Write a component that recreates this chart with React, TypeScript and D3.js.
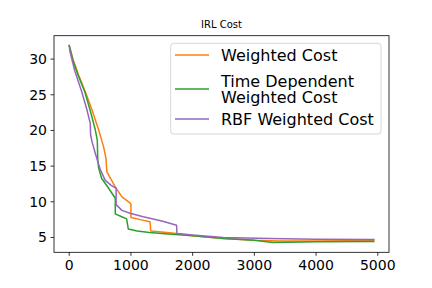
import * as d3 from "d3";

// iteration (x) and cost (y)
const weightedX = [0, 60, 150, 270, 368, 476, 557, 595, 611, 680, 746, 854, 989, 1000, 1000, 1150, 1310, 1320, 1500, 1740, 2000, 2500, 3000, 3400, 4000, 4500, 4935];
const weightedY = [31.9, 30.0, 27.8, 25.2, 22.9, 20.1, 17.7, 16.1, 14.2, 13.1, 12.1, 10.7, 9.8, 9.6, 7.8, 7.5, 7.2, 5.9, 5.75, 5.55, 5.25, 4.85, 4.6, 4.5, 4.5, 4.55, 4.6];

const timeDepX = [0, 60, 150, 254, 340, 422, 455, 462, 475, 524, 638, 746, 746, 850, 930, 957, 1100, 1300, 1600, 2000, 2500, 3000, 3300, 4000, 4935];
const timeDepY = [31.9, 29.8, 27.6, 25.4, 22.8, 20.1, 18.6, 16.0, 14.8, 13.3, 11.9, 10.5, 8.3, 7.9, 7.6, 6.2, 5.9, 5.7, 5.5, 5.25, 4.85, 4.6, 4.3, 4.4, 4.45];

const rbfX = [0, 11, 92, 200, 287, 341, 346, 370, 422, 503, 584, 680, 760, 760, 854, 984, 1200, 1500, 1740, 1745, 2000, 2500, 3250, 4000, 4935];
const rbfY = [31.9, 31.1, 28.3, 25.5, 22.9, 21.0, 19.4, 18.4, 16.8, 14.5, 13.0, 12.3, 11.9, 9.6, 8.8, 8.4, 7.9, 7.3, 6.7, 5.55, 5.35, 5.0, 4.85, 4.75, 4.7];

const xTicks = [0, 1000, 2000, 3000, 4000, 5000];
const yTicks = [5, 10, 15, 20, 25, 30];

const series = [
  { name: ["Weighted Cost"], xs: weightedX, ys: weightedY, color: "#ff7f0e" },
  { name: ["Time Dependent", "Weighted Cost"], xs: timeDepX, ys: timeDepY, color: "#2ca02c" },
  { name: ["RBF Weighted Cost"], xs: rbfX, ys: rbfY, color: "#9467bd" },
];

const width = 432;
const height = 288;
const left = 54;
const right = 389;
const top = 35.7;
const bottom = 252.3;

// matplotlib style 5% margins
function padded(vals: number[]): [number, number] {
  const [lo, hi] = d3.extent(vals) as [number, number];
  const p = (hi - lo) * 0.05;
  return [lo - p, hi + p];
}

export default function App() {
  const allX = series.flatMap((s) => s.xs);
  const allY = series.flatMap((s) => s.ys);
  const x = d3.scaleLinear(padded(allX), [left, right]);
  const y = d3.scaleLinear(padded(allY), [bottom, top]);

  const font = "DejaVu Sans, sans-serif";

  // legend rows
  const rowY = [55, 89, 119];

  return (
    <svg
      width={width}
      height={height}
      style={{ position: "absolute", left: 0, top: 0, background: "#fff" }}
      fontFamily={font}
    >
      <text x={(left + right) / 2} y={28} fontSize={10} textAnchor="middle" fill="#000">
        IRL Cost
      </text>

      {series.map((s, k) => {
        const pts = s.xs.map((v, i) => [x(v), y(s.ys[i])] as [number, number]);
        return (
          <path
            key={k}
            d={d3.line()(pts) || undefined}
            fill="none"
            stroke={s.color}
            strokeWidth={1.5}
            strokeLinejoin="round"
            strokeLinecap="square"
          />
        );
      })}

      <rect x={left} y={top} width={right - left} height={bottom - top} fill="none" stroke="#000" strokeWidth={0.8} />

      {xTicks.map((t) => (
        <g key={t}>
          <line x1={x(t)} x2={x(t)} y1={bottom} y2={bottom + 3.5} stroke="#000" strokeWidth={0.8} />
          <text x={x(t)} y={269.5} fontSize={14} textAnchor="middle" fill="#000">
            {t}
          </text>
        </g>
      ))}
      {yTicks.map((t) => (
        <g key={t}>
          <line x1={left - 3.5} x2={left} y1={y(t)} y2={y(t)} stroke="#000" strokeWidth={0.8} />
          <text x={47} y={y(t) + 5} fontSize={14} textAnchor="end" fill="#000">
            {t}
          </text>
        </g>
      ))}

      <rect x={170.7} y={43.3} width={210.3} height={90.7} rx={3} fill="#fff" fillOpacity={0.8} stroke="#cccccc" strokeWidth={0.8} />
      {series.map((s, k) => (
        <g key={k}>
          <line x1={175} x2={209} y1={rowY[k]} y2={rowY[k]} stroke={s.color} strokeWidth={1.5} />
          <text x={221} y={rowY[k] + 5.7 - ((s.name.length - 1) / 2) * 16.4} fontSize={16} fill="#000">
            {s.name.map((n, j) => (
              <tspan key={j} x={221} dy={j === 0 ? 0 : 16.4}>
                {n}
              </tspan>
            ))}
          </text>
        </g>
      ))}
    </svg>
  );
}
